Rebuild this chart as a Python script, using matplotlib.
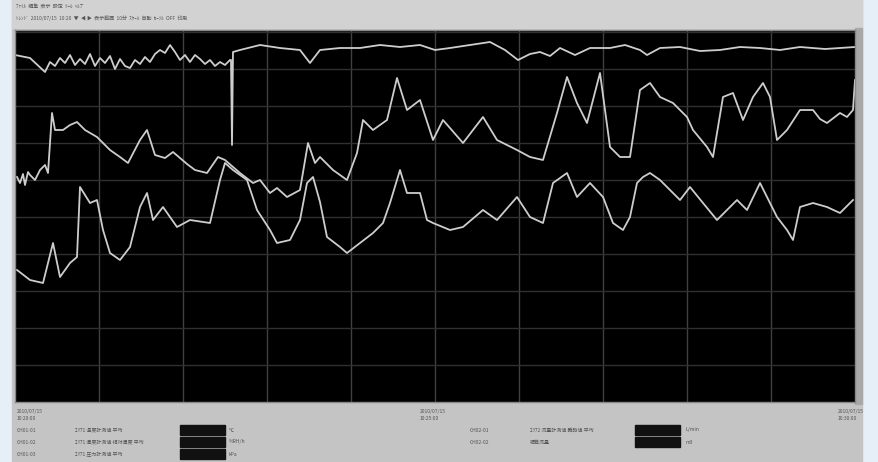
import matplotlib.pyplot as plt
from matplotlib.patches import Rectangle

plt.rcParams['font.family'] = ['Noto Sans CJK JP', 'DejaVu Sans']

# trace data: time in samples, level in counts
t1 = [0, 15, 30, 35, 40, 45, 50, 55, 60, 65, 70, 75, 80, 85, 90, 95, 100, 105, 110,
      115, 120, 125, 130, 135, 140, 145, 150, 155, 160, 165, 170, 175, 180, 185, 190,
      195, 200, 205, 210, 215, 216, 217, 218, 225, 245, 265, 285, 295, 305, 325, 345,
      365, 385, 405, 420, 435, 455, 475, 490, 503, 515, 525, 535, 545, 560, 575, 595,
      610, 625, 632, 645, 665, 685, 705, 725, 745, 765, 785, 810, 840]
v1 = [347, 344, 330, 340, 336, 344, 339, 347, 337, 343, 338, 348, 336, 344, 339, 346,
      333, 343, 336, 334, 342, 338, 345, 340, 348, 352, 349, 357, 350, 342, 347, 340,
      347, 343, 338, 342, 336, 340, 337, 342, 342, 257, 350, 352, 357, 354, 352, 339,
      352, 354, 354, 357, 355, 357, 352, 354, 357, 360, 352, 342, 348, 350, 346, 354,
      347, 354, 354, 357, 352, 347, 354, 355, 351, 352, 355, 354, 352, 355, 353, 355]

t2 = [2, 5, 8, 10, 13, 15, 20, 25, 30, 33, 37, 40, 48, 55, 62, 70, 82, 95, 105, 113,
      125, 132, 140, 150, 158, 165, 172, 180, 192, 203, 210, 225, 238, 245, 255, 262,
      272, 285, 293, 300, 305, 318, 332, 342, 348, 358, 372, 382, 392, 405, 418, 428,
      448, 468, 482, 502, 515, 528, 542, 552, 562, 572, 585, 595, 605, 615, 625, 635,
      645, 658, 672, 678, 692, 698, 708, 718, 728, 738, 748, 755, 762, 772, 785, 798,
      805, 812, 825, 832, 838, 840]
v2 = [225, 219, 228, 217, 230, 227, 222, 232, 237, 229, 289, 272, 272, 277, 280, 272,
      265, 252, 245, 239, 262, 272, 247, 244, 250, 244, 238, 232, 229, 245, 242, 229,
      219, 222, 209, 214, 205, 212, 259, 239, 245, 232, 222, 249, 282, 272, 282, 324,
      292, 302, 262, 282, 259, 285, 262, 252, 245, 242, 289, 325, 299, 279, 329, 255,
      245, 245, 312, 319, 305, 299, 285, 272, 255, 245, 305, 309, 282, 305, 319, 305,
      262, 272, 292, 292, 283, 279, 289, 285, 292, 322]

t3 = [2, 15, 28, 38, 45, 55, 62, 65, 75, 82, 88, 95, 105, 115, 125, 132, 138, 148,
      162, 175, 195, 205, 210, 218, 232, 242, 255, 262, 275, 285, 292, 298, 305, 312,
      325, 332, 345, 358, 368, 375, 385, 392, 405, 412, 418, 435, 448, 468, 482, 502,
      515, 528, 538, 552, 562, 575, 588, 598, 608, 615, 622, 628, 635, 645, 658, 665,
      675, 688, 702, 712, 722, 732, 745, 752, 762, 772, 778, 785, 798, 812, 825, 838]
v3 = [132, 122, 119, 159, 125, 139, 145, 215, 199, 202, 172, 149, 142, 155, 195, 209,
      182, 195, 175, 182, 179, 222, 239, 232, 222, 192, 172, 159, 162, 182, 219, 225,
      200, 165, 155, 149, 159, 169, 179, 199, 232, 209, 209, 182, 179, 172, 175, 192,
      182, 205, 185, 179, 219, 229, 205, 219, 205, 179, 172, 185, 219, 225, 229, 222,
      209, 202, 215, 199, 182, 192, 202, 192, 219, 205, 185, 172, 162, 195, 199, 195,
      189, 202]

W, H = 879, 462
fig = plt.figure(figsize=(W / 100, H / 100), dpi=100)
fig.patch.set_facecolor('#e6eef8')

def px(x, y, w, h):
    return [x / W, 1 - (y + h) / H, w / W, h / H]

# window body
bg = fig.add_axes([0, 0, 1, 1])
bg.set_xlim(0, W)
bg.set_ylim(H, 0)
bg.axis('off')
bg.add_patch(Rectangle((12, 0), 850, H, color='#c4c4c4'))
bg.add_patch(Rectangle((12, 0), 850, 28, color='#d2d2d2'))
bg.add_patch(Rectangle((855, 28), 7, 376, color='#a8a8a8'))

small = dict(fontsize=3.6, color='#555555', va='center')
bg.text(16, 7, 'ﾌｧｲﾙ  編集  表示  設定  ﾂｰﾙ  ﾍﾙﾌﾟ', **small)
bg.text(16, 18, 'ﾄﾚﾝﾄﾞ  2010/07/15  10:20  ▼  ◀ ▶  表示範囲  10分  ｽｹｰﾙ  自動  ｶｰｿﾙ  OFF  印刷', **small)

# bottom info panel
bg.text(17, 411, '2010/07/15', **small)
bg.text(17, 419, '10:20:00', **small)
bg.text(420, 411, '2010/07/15', **small)
bg.text(420, 419, '10:25:00', **small)
bg.text(838, 411, '2010/07/15', **small)
bg.text(838, 419, '10:30:00', **small)
rows_l = [('CH01-01', 'ｴﾘｱ1 温度計測値 平均', '℃'),
          ('CH01-02', 'ｴﾘｱ1 湿度計測値 相対湿度 平均', '%RH/h'),
          ('CH01-03', 'ｴﾘｱ1 圧力計測値 平均', 'kPa')]
for i, (a, b, c) in enumerate(rows_l):
    y = 430 + i * 12
    bg.text(17, y, a, **small)
    bg.text(75, y, b, **small)
    bg.add_patch(Rectangle((180, y - 5), 45, 10, color='#111111'))
    bg.text(229, y, c, **small)
rows_r = [('CH02-01', 'ｴﾘｱ2 流量計測値 瞬時値 平均', 'L/min'),
          ('CH02-02', '積算流量', 'm3')]
for i, (a, b, c) in enumerate(rows_r):
    y = 430 + i * 12
    bg.text(470, y, a, **small)
    bg.text(530, y, b, **small)
    bg.add_patch(Rectangle((635, y - 5), 45, 10, color='#111111'))
    bg.text(686, y, c, **small)

# trend display
ax = fig.add_axes(px(15, 30, 840, 372))
ax.set_facecolor('black')
ax.set_xlim(0, 840)
ax.set_ylim(0, 372)
for x in range(84, 840, 84):
    ax.axvline(x, color='#404040', lw=1.0)
for y in range(37, 372, 37):
    ax.axhline(y, color='#303030', lw=1.0)
for t, v in [(t1, v1), (t2, v2), (t3, v3)]:
    ax.plot(t, v, color='#cdcdcd', lw=1.3)
ax.set_xticks([])
ax.set_yticks([])
for s in ax.spines.values():
    s.set_color('#888888')
    s.set_linewidth(1.0)

fig.savefig('out.png', dpi=100, facecolor=fig.get_facecolor())
